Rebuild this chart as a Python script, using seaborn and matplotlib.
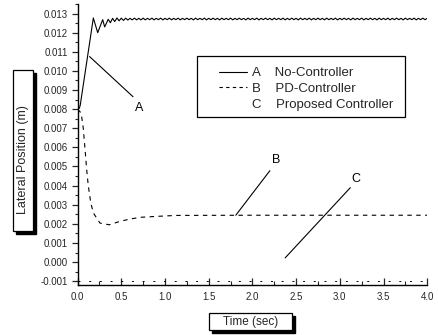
import numpy as np
import pandas as pd
import matplotlib
matplotlib.use("Agg")
import matplotlib.pyplot as plt
from matplotlib.lines import Line2D
from matplotlib.patches import Rectangle
from matplotlib.ticker import MultipleLocator, FormatStrFormatter
import seaborn as sns

# ---------------- data ----------------
# A: No-Controller (transient part)
a_t_trans = [0.000, 0.020, 0.030, 0.180, 0.230, 0.287, 0.310, 0.350, 0.375]
a_v_trans = [0.00800, 0.00805, 0.00820, 0.01277, 0.01200, 0.01268, 0.01230, 0.01270, 0.01252]
# A: steady-state ripple, sampled every 0.025 s from 0.400 s to 4.000 s
a_t_steady = np.round(np.arange(0.400, 4.0001, 0.025), 3)
a_v_steady = [
    0.01275, 0.01258, 0.01277, 0.01262, 0.01276, 0.01264, 0.01276, 0.01266, 0.01275, 0.01267,
    0.01276, 0.01267, 0.01275, 0.01267, 0.01276, 0.01267, 0.01275, 0.01268, 0.01276, 0.01267,
    0.01275, 0.01268, 0.01276, 0.01267, 0.01275, 0.01268, 0.01276, 0.01267, 0.01275, 0.01268,
    0.01276, 0.01267, 0.01275, 0.01268, 0.01276, 0.01268, 0.01275, 0.01267, 0.01276, 0.01268,
    0.01275, 0.01268, 0.01276, 0.01267, 0.01275, 0.01268, 0.01276, 0.01268, 0.01275, 0.01267,
    0.01276, 0.01268, 0.01275, 0.01268, 0.01276, 0.01267, 0.01275, 0.01268, 0.01276, 0.01268,
    0.01275, 0.01267, 0.01276, 0.01268, 0.01275, 0.01268, 0.01276, 0.01267, 0.01275, 0.01268,
    0.01276, 0.01268, 0.01275, 0.01267, 0.01276, 0.01268, 0.01275, 0.01268, 0.01276, 0.01267,
    0.01275, 0.01268, 0.01276, 0.01268, 0.01275, 0.01267, 0.01276, 0.01268, 0.01275, 0.01268,
    0.01276, 0.01267, 0.01275, 0.01268, 0.01276, 0.01268, 0.01275, 0.01267, 0.01276, 0.01268,
    0.01275, 0.01268, 0.01276, 0.01267, 0.01275, 0.01268, 0.01276, 0.01268, 0.01275, 0.01267,
    0.01276, 0.01268, 0.01275, 0.01268, 0.01276, 0.01267, 0.01275, 0.01268, 0.01276, 0.01268,
    0.01275, 0.01267, 0.01276, 0.01268, 0.01275, 0.01268, 0.01276, 0.01267, 0.01275, 0.01268,
    0.01276, 0.01268, 0.01275, 0.01267, 0.01276, 0.01268, 0.01275, 0.01268, 0.01276, 0.01267,
    0.01275, 0.01268, 0.01276, 0.01268, 0.01275,
]

# B: PD-Controller
b_t = [0.000, 0.040, 0.065, 0.085, 0.104, 0.122, 0.135, 0.150, 0.180, 0.256,
       0.363, 0.485, 0.600, 0.714, 0.905, 1.130, 2.000, 3.000, 4.000]
b_v = [0.00800, 0.00780, 0.00700, 0.00590, 0.00483, 0.00400, 0.00360, 0.00312, 0.00257, 0.00204,
       0.00195, 0.00213, 0.00225, 0.00234, 0.00239, 0.00244, 0.00245, 0.00245, 0.00245]

# C: Proposed Controller
c_t = [0.000, 1.000, 2.000, 3.000, 4.000]
c_v = [-0.00100, -0.00100, -0.00100, -0.00100, -0.00100]

series_names = ["A", "B", "C"]
legend_labels = ["A    No-Controller", "B    PD-Controller", "C    Proposed Controller"]
x_ticks = [0.0, 0.5, 1.0, 1.5, 2.0, 2.5, 3.0, 3.5, 4.0]
y_ticks = [-0.001, 0.000, 0.001, 0.002, 0.003, 0.004, 0.005, 0.006, 0.007,
           0.008, 0.009, 0.010, 0.011, 0.012, 0.013]

# callout annotations: (label, curve point, line end, label position)
callouts = [
    ("A", (0.137, 0.01075), (0.634, 0.00865), (0.700, 0.00805)),
    ("B", (1.810, 0.00245), (2.200, 0.00478), (2.270, 0.00535)),
    ("C", (2.375, 0.00022), (3.120, 0.00389), (3.180, 0.00435)),
]

# ---------------- figure ----------------
sns.set_style("ticks")
plt.rcParams["font.family"] = ["Liberation Sans", "DejaVu Sans"]

W, H = 438, 335
fig = plt.figure(figsize=(W / 100, H / 100), dpi=100)
ax = fig.add_axes([77.6 / W, (H - 285) / H, 349.6 / W, 281 / H])

df_a = pd.DataFrame({"t": list(a_t_trans) + list(a_t_steady),
                     "v": list(a_v_trans) + list(a_v_steady)})
df_b = pd.DataFrame({"t": b_t, "v": b_v})
df_c = pd.DataFrame({"t": c_t, "v": c_v})

sns.lineplot(data=df_a, x="t", y="v", ax=ax, color="black", lw=0.8,
             estimator=None, sort=False)
sns.lineplot(data=df_b, x="t", y="v", ax=ax, color="black", lw=0.8,
             estimator=None, sort=False, linestyle=(0, (4, 4)))
sns.lineplot(data=df_c, x="t", y="v", ax=ax, color="black", lw=0.7,
             estimator=None, sort=False, linestyle=(0, (2, 9)))

ax.set_xlim(0, 4.0)
ax.set_ylim(-0.0012, 0.0135)
ax.set_xlabel("")
ax.set_ylabel("")

ax.xaxis.set_major_locator(plt.FixedLocator(x_ticks))
ax.xaxis.set_minor_locator(MultipleLocator(0.25))
ax.yaxis.set_major_locator(plt.FixedLocator(y_ticks))
ax.yaxis.set_minor_locator(MultipleLocator(0.0005))
ax.xaxis.set_major_formatter(FormatStrFormatter("%.1f"))
ax.yaxis.set_major_formatter(FormatStrFormatter("%.3f"))

ax.tick_params(axis="x", which="major", direction="in", length=5, width=0.9,
               labelsize=7, pad=5)
ax.tick_params(axis="x", which="minor", direction="in", length=3, width=0.8)
ax.tick_params(axis="y", which="major", direction="out", length=4, width=0.9,
               labelsize=7, pad=3)
ax.tick_params(axis="y", which="minor", direction="out", length=2.5, width=0.8)

for s in ["top", "right"]:
    ax.spines[s].set_visible(False)
for s in ["left", "bottom"]:
    ax.spines[s].set_linewidth(1.0)
    ax.spines[s].set_color("black")

# callouts
for lab, pt, end, lpos in callouts:
    ax.annotate("", xy=pt, xytext=end,
                arrowprops=dict(arrowstyle="-", lw=0.8, color="black",
                                shrinkA=0, shrinkB=0))
    ax.text(lpos[0], lpos[1], lab, fontsize=9, ha="center", va="center",
            color="black")

# legend (frame drawn separately so its padding can match the reference)
handles = [Line2D([], [], color="black", lw=0.8),
           Line2D([], [], color="black", lw=0.8, linestyle=(0, (3, 3))),
           Line2D([], [], color="none", lw=0.8)]
leg = ax.legend(handles, legend_labels, loc="upper left",
                bbox_to_anchor=((219 - 77.6) / 349.6, (285 - 67) / 281),
                fontsize=9.5, frameon=False, handlelength=2.1, handletextpad=0.4,
                borderpad=0, labelspacing=0.26, borderaxespad=0)
fig.patches.append(Rectangle((197 / W, 1 - 117 / H), (405 - 197) / W, (117 - 56) / H,
                             transform=fig.transFigure, facecolor="white",
                             edgecolor="black", lw=0.9, zorder=1.5))
ax.set_zorder(2)
ax.patch.set_alpha(0)


# boxed axis labels with drop shadow (figure pixel coords, origin top-left)
def boxed_label(x0, y0, x1, y1, text, rot, cx, cy, fs):
    sh = 3
    fig.patches.append(Rectangle((x0 / W + sh / W, 1 - (y1 + sh) / H),
                                 (x1 - x0) / W, (y1 - y0) / H,
                                 transform=fig.transFigure, facecolor="black",
                                 edgecolor="black", zorder=1))
    fig.patches.append(Rectangle((x0 / W, 1 - y1 / H),
                                 (x1 - x0) / W, (y1 - y0) / H,
                                 transform=fig.transFigure, facecolor="white",
                                 edgecolor="black", lw=0.9, zorder=2))
    fig.text(cx / W, 1 - cy / H, text, rotation=rot, ha="center", va="center",
             fontsize=fs, zorder=3)


boxed_label(13, 70, 33, 231, "Lateral Position (m)", 90, 23.5, 160, 9)
boxed_label(209, 313, 292, 330, "Time (sec)", 0, 250.5, 321.5, 8.5)

fig.savefig("out.png", dpi=100)
